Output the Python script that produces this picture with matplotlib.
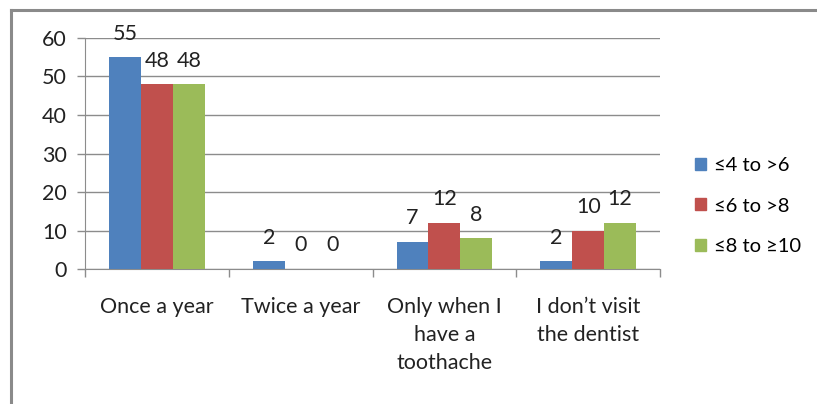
import numpy as np
import matplotlib.pyplot as plt
from matplotlib.lines import Line2D

plt.rcParams['font.family'] = ['Lato', 'DejaVu Sans']

categories = ["Once a year", "Twice a year", "Only when I\nhave a\ntoothache",
              "I don\u2019t visit\nthe dentist"]
series_names = ["\u22644 to >6", "\u22646 to >8", "\u22648 to \u226510"]
values_a = [55, 2, 7, 2]
values_b = [48, 0, 12, 10]
values_c = [48, 0, 8, 12]
colors = ["#4F81BD", "#C0504D", "#9BBB59"]

fig = plt.figure(figsize=(8.17, 4.04), dpi=100)
ax = fig.add_axes([0.104, 0.334, 0.704, 0.572])

x = np.arange(len(categories))
width = 0.222
grey = "#8C8C8C"
fs = 15.5

for i, (vals, col, name) in enumerate(zip([values_a, values_b, values_c], colors, series_names)):
    pos = x + (i - 1) * width
    ax.bar(pos, vals, width, color=col, label=name, zorder=3)
    for px, v in zip(pos, vals):
        ax.annotate(str(v), (px, v), xytext=(0, 17), textcoords="offset points",
                    ha="center", va="center", fontsize=fs, color="#222222")

ax.set_ylim(0, 60)
ax.set_xlim(-0.5, len(categories) - 0.5)
ax.set_yticks(range(0, 61, 10))
ax.yaxis.grid(True, color=grey, linewidth=1, zorder=0)
ax.set_axisbelow(True)

# group boundary ticks on the x axis, labels centred on groups
ax.set_xticks(np.arange(-0.5, len(categories)), minor=False)
ax.set_xticklabels([])
ax.set_xticks(x, minor=True)
ax.set_xticklabels(categories, minor=True, fontsize=fs, color="#222222", linespacing=1.5)
ax.tick_params(axis="x", which="minor", length=0, pad=20)
ax.tick_params(axis="x", which="major", length=6, color=grey, width=1)
ax.tick_params(axis="y", length=6, color=grey, width=1, labelsize=fs, labelcolor="#222222", pad=7)

for side in ["top", "right"]:
    ax.spines[side].set_visible(False)
for side in ["left", "bottom"]:
    ax.spines[side].set_color(grey)

handles = [plt.Rectangle((0, 0), 1, 1, color=c) for c in colors]
fig.legend(handles, series_names, loc="center left", bbox_to_anchor=(0.828, 0.49),
           frameon=False, fontsize=14.5, handlelength=0.55, handleheight=0.55,
           handletextpad=0.4, labelspacing=1.15)

# outer chart frame
fig.add_artist(Line2D([11 / 817, 11 / 817], [0, 1 - 10 / 404], color="#8A8A8A", lw=2.2))
fig.add_artist(Line2D([11 / 817, 1], [1 - 10 / 404, 1 - 10 / 404], color="#8A8A8A", lw=2.2))

fig.savefig("out.png", dpi=100)
